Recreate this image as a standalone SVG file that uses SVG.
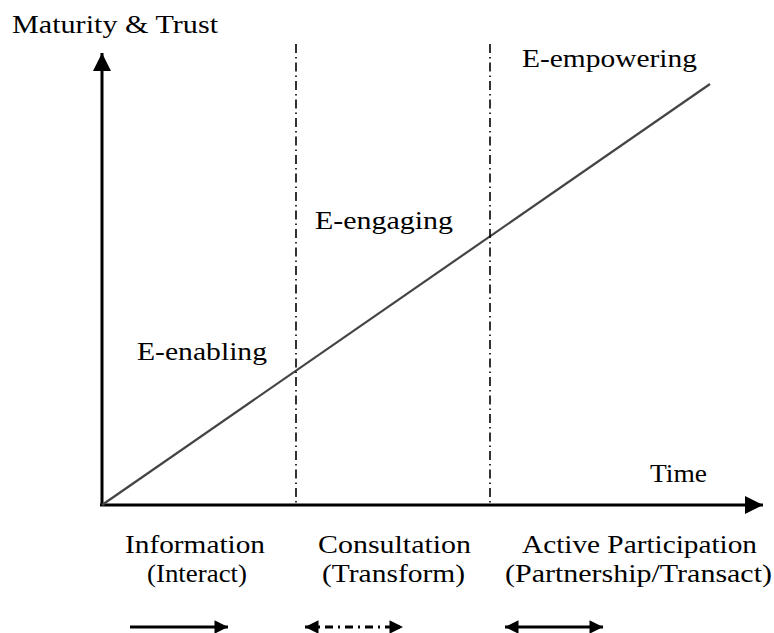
<svg xmlns="http://www.w3.org/2000/svg" width="774" height="633" viewBox="0 0 774 633">
<style>
text{font-family:"Liberation Serif","Times New Roman",serif;font-size:25px;fill:#000}
.ax{stroke:#000;stroke-width:3;fill:none}
.vd{stroke:#000;stroke-width:1.6;stroke-dasharray:9 4 1.5 4;fill:none}
.ar{stroke:#000;stroke-width:3;fill:none}
</style>
<defs>
<marker id="ah" viewBox="0 0 10 10" refX="10" refY="5" markerWidth="5" markerHeight="4.5" markerUnits="strokeWidth" orient="auto-start-reverse">
<path d="M0,0 L10,5 L0,10 Z" fill="#000"/>
</marker>
<marker id="axh" viewBox="0 0 10 10" refX="10" refY="5" markerWidth="6.3" markerHeight="6" markerUnits="strokeWidth" orient="auto">
<path d="M0,0 L10,5 L0,10 Z" fill="#000"/>
</marker>
</defs>
<rect width="774" height="633" fill="#fff"/>
<g id="connectors">
<line class="ax" x1="102" y1="506" x2="102" y2="53" marker-end="url(#axh)"/>
<line class="ax" x1="100" y1="505" x2="763" y2="505" marker-end="url(#axh)"/>
<line x1="102" y1="505" x2="710" y2="84" stroke="#444" stroke-width="2.2"/>
<line class="vd" x1="296" y1="44" x2="296" y2="505"/>
<line class="vd" x1="490" y1="44" x2="490" y2="505"/>
<line class="ar" x1="130" y1="627" x2="228" y2="627" marker-end="url(#ah)"/>
<line x1="305" y1="627" x2="403" y2="627" stroke="#000" stroke-width="3" stroke-dasharray="8 5 2 5" marker-start="url(#ah)" marker-end="url(#ah)"/>
<line class="ar" x1="505" y1="627" x2="603" y2="627" marker-start="url(#ah)" marker-end="url(#ah)"/>
</g>
<g id="axis-y-label"><text x="12" y="33" textLength="206" lengthAdjust="spacingAndGlyphs">Maturity &amp; Trust</text></g>
<g id="axis-x-label"><text x="650" y="482" textLength="57" lengthAdjust="spacingAndGlyphs">Time</text></g>
<g id="e-enabling"><text x="137" y="360" textLength="130" lengthAdjust="spacingAndGlyphs">E-enabling</text></g>
<g id="e-engaging"><text x="315" y="229" textLength="138" lengthAdjust="spacingAndGlyphs">E-engaging</text></g>
<g id="e-empowering"><text x="522" y="67" textLength="175" lengthAdjust="spacingAndGlyphs">E-empowering</text></g>
<g id="information">
<text x="125" y="553" textLength="140" lengthAdjust="spacingAndGlyphs">Information</text>
<text x="147" y="582" textLength="100" lengthAdjust="spacingAndGlyphs">(Interact)</text>
</g>
<g id="consultation">
<text x="318" y="553" textLength="153" lengthAdjust="spacingAndGlyphs">Consultation</text>
<text x="322" y="582" textLength="143" lengthAdjust="spacingAndGlyphs">(Transform)</text>
</g>
<g id="active-participation">
<text x="522" y="553" textLength="235" lengthAdjust="spacingAndGlyphs">Active Participation</text>
<text x="505" y="582" textLength="267" lengthAdjust="spacingAndGlyphs">(Partnership/Transact)</text>
</g>
</svg>
